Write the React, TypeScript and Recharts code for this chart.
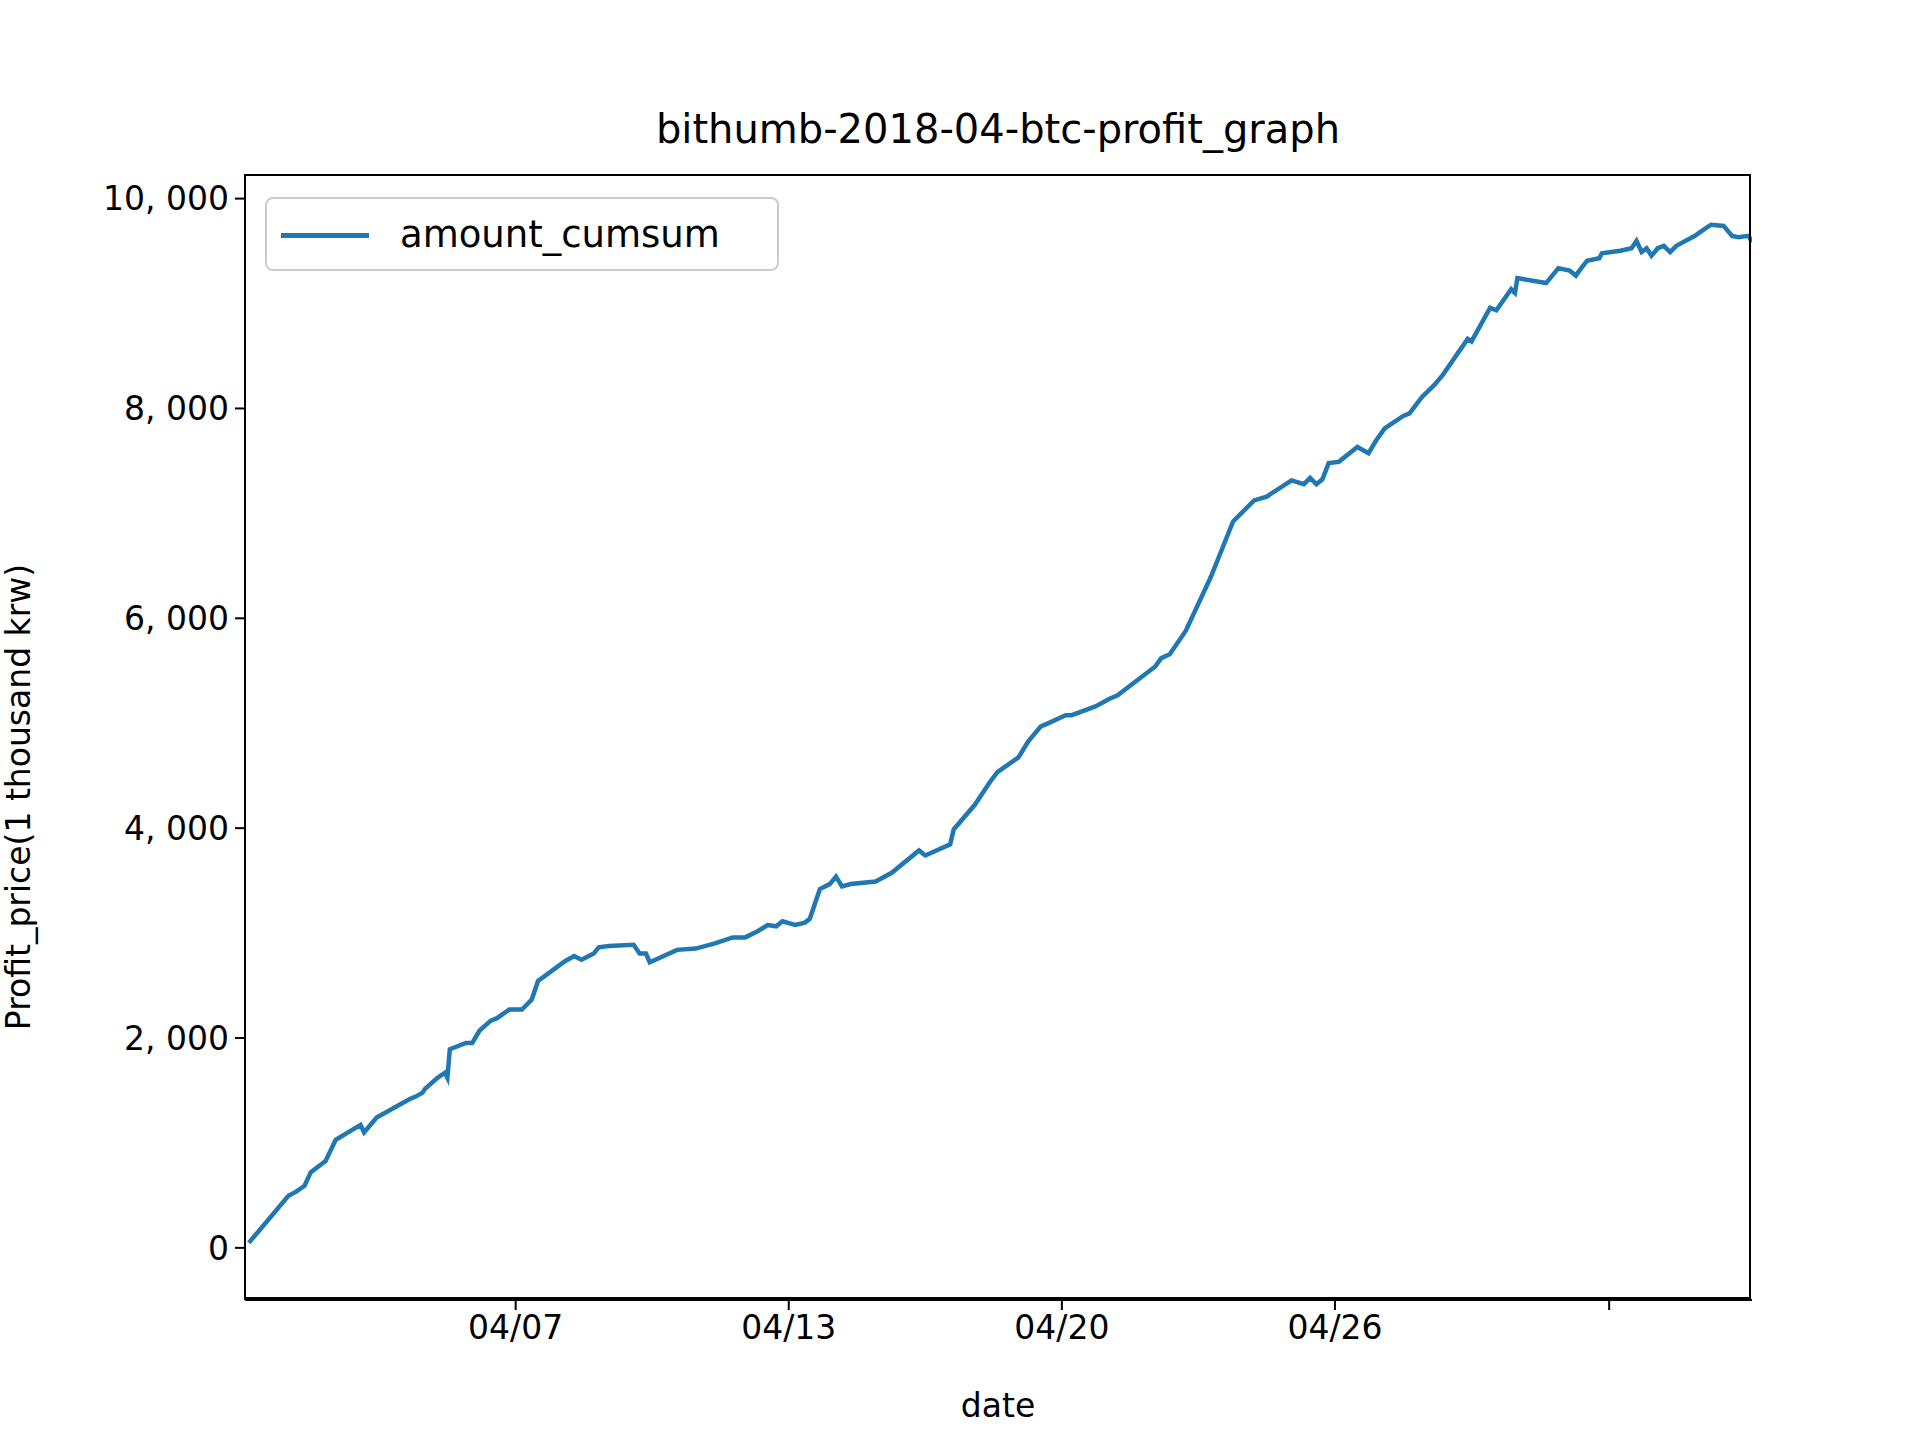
import React from "react";
import { LineChart, Line, XAxis, YAxis } from "recharts";

const times = [0.014,0.159,0.186,0.218,0.241,0.295,0.332,0.423,0.436,0.482,0.605,0.627,0.65,0.659,0.705,0.732,0.741,0.75,0.809,0.832,0.859,0.9,0.923,0.968,1.014,1.05,1.073,1.173,1.205,1.232,1.277,1.295,1.332,1.423,1.445,1.468,1.482,1.582,1.65,1.718,1.786,1.832,1.877,1.914,1.945,1.968,2.014,2.05,2.068,2.105,2.141,2.164,2.186,2.218,2.309,2.368,2.468,2.491,2.582,2.595,2.673,2.727,2.755,2.832,2.868,2.914,2.936,3.005,3.027,3.114,3.164,3.195,3.332,3.355,3.386,3.445,3.536,3.618,3.695,3.741,3.832,3.877,3.9,3.923,3.945,3.968,4.005,4.073,4.114,4.141,4.173,4.241,4.264,4.309,4.355,4.386,4.477,4.491,4.559,4.582,4.636,4.65,4.659,4.764,4.809,4.85,4.873,4.886,4.914,4.959,4.968,5.036,5.077,5.095,5.114,5.132,5.15,5.173,5.195,5.218,5.241,5.309,5.341,5.368,5.414,5.445,5.468,5.505,5.518];
const amountCumsum = [47,497,533,592,722,828,1030,1172,1100,1243,1420,1444,1479,1515,1621,1669,1621,1893,1953,1953,2071,2166,2189,2272,2272,2367,2544,2734,2781,2746,2805,2864,2876,2888,2805,2805,2722,2840,2852,2899,2959,2959,3018,3077,3065,3112,3077,3100,3136,3420,3467,3538,3444,3467,3491,3574,3787,3740,3846,3988,4225,4438,4533,4675,4828,4970,4994,5077,5077,5160,5231,5266,5538,5621,5657,5882,6391,6923,7124,7160,7314,7278,7337,7278,7325,7479,7491,7633,7574,7692,7810,7929,7953,8107,8225,8320,8663,8639,8959,8935,9136,9101,9242,9195,9337,9314,9266,9314,9408,9432,9479,9503,9527,9598,9491,9527,9456,9527,9550,9491,9550,9645,9704,9751,9740,9645,9633,9645,9586];
const xTicks = [0.991, 1.991, 2.991, 3.991, 4.995];
const xTickLabels = ["04/07", "04/13", "04/20", "04/26", ""];
const yTicks = [0, 2000, 4000, 6000, 8000, 10000];

const data = times.map((t, i) => ({ t, v: amountCumsum[i] }));
const font = "'DejaVu Sans', sans-serif";
const tickStyle = { fill: "#000", fontSize: 33, fontFamily: font };
const fmtY = (v: number) => (v >= 1000 ? `${Math.floor(v / 1000)}, ${String(v % 1000).padStart(3, "0")}` : String(v));

export default function App() {
  return (
    <div style={{ position: "absolute", left: 0, top: 0, width: 1920, height: 1440, background: "#fff", fontFamily: font }}>
      <LineChart width={1920} height={1440} data={data} margin={{ left: 0, right: 168, top: 175, bottom: 0 }}>
        <XAxis dataKey="t" type="number" domain={[0, 5.518]} ticks={xTicks} tickFormatter={(v: number) => xTickLabels[xTicks.indexOf(v)] ?? ""} tick={tickStyle} stroke="#000" strokeWidth={2} tickSize={10} tickMargin={6} height={140} interval={0} allowDataOverflow />
        <YAxis type="number" domain={[-497, 10225]} ticks={yTicks} tickFormatter={fmtY} tick={tickStyle} stroke="#000" strokeWidth={2} tickSize={10} tickMargin={6} width={245} interval={0} allowDataOverflow />
        <Line dataKey="v" stroke="#1f77b4" strokeWidth={4.5} dot={false} isAnimationActive={false} />
      </LineChart>
      <div style={{ position: "absolute", left: 245, top: 175, width: 1507, height: 1125, border: "2px solid #000", boxSizing: "border-box", pointerEvents: "none", marginLeft: -1, marginTop: -1 }} />
      <div style={{ position: "absolute", left: 0, width: 1996, top: 106, textAlign: "center", fontSize: 40 }}>bithumb-2018-04-btc-profit_graph</div>
      <div style={{ position: "absolute", left: 0, width: 1996, top: 1386, textAlign: "center", fontSize: 33 }}>date</div>
      <div style={{ position: "absolute", left: 18, top: 797, width: 0, height: 0 }}>
        <div style={{ position: "absolute", transform: "translate(-50%,-50%) rotate(-90deg)", whiteSpace: "nowrap", fontSize: 33 }}>Profit_price(1 thousand krw)</div>
      </div>
      <div style={{ position: "absolute", left: 265, top: 197, width: 514, height: 74, border: "2px solid #ccc", borderRadius: 8, boxSizing: "border-box", background: "rgba(255,255,255,0.8)" }}>
        <div style={{ position: "absolute", left: 14, top: 34, width: 88, height: 4.5, background: "#1f77b4" }} />
        <div style={{ position: "absolute", left: 133, top: 14, fontSize: 37 }}>amount_cumsum</div>
      </div>
    </div>
  );
}
